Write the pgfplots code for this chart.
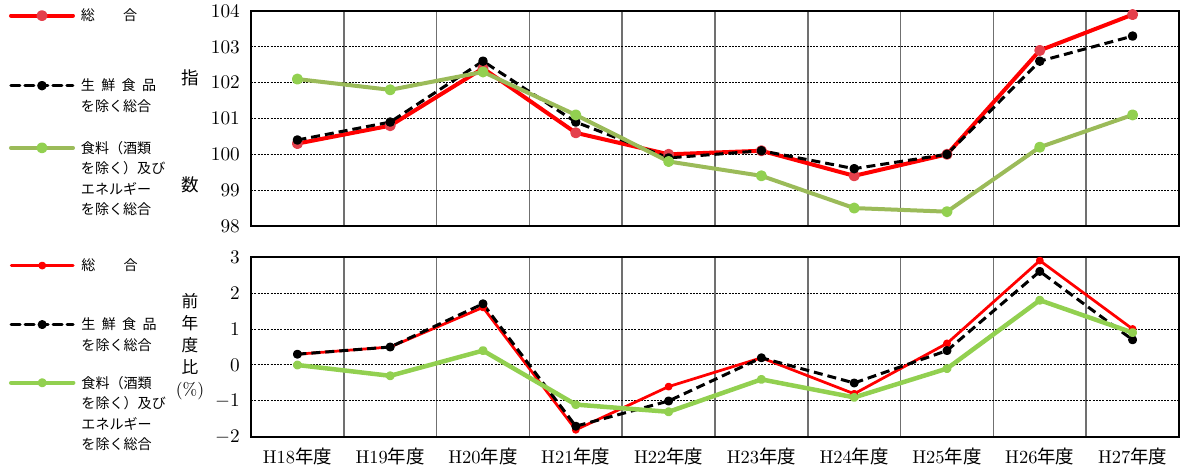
\documentclass[border=0pt]{standalone}
\usepackage{fontspec}
\usepackage{pgfplots}
\pgfplotsset{compat=1.18}
\newfontfamily\cjk{Noto Sans CJK JP}
\definecolor{sred}{HTML}{FF0000}
\definecolor{sredmk}{HTML}{E4404C}
\definecolor{olive}{HTML}{9BBB59}
\definecolor{lgreen}{HTML}{92D050}
\definecolor{vgrid}{HTML}{707070}

% legend text: fixed height box, baseline on the first line
\newcommand{\lgt}[2]{\parbox[t][#1][t]{24mm}{\cjk\fontsize{8}{11.7}\selectfont #2}}

\pgfplotsset{
  panel/.style={
    scale only axis, width=185.6mm,
    xmin=-0.5, xmax=9.5, xtick={0,...,9},
    minor xtick={0.5,1.5,...,8.5},
    xminorgrids=true,
    minor x grid style={vgrid, line width=0.3mm},
    ymajorgrids=true,
    major y grid style={black, line width=0.2mm, dash pattern=on 0.4mm off 0.25mm},
    axis line style={line width=0.5mm},
    major tick length=0pt, minor tick length=0pt,
    tick label style={font=\fontsize{10.5}{12}\selectfont},
    yticklabel style={xshift=-1mm},
    clip=false,
    every axis plot/.append style={line join=round},
    legend cell align=left,
    legend image code/.code={
      \draw[mark repeat=2, mark phase=2, line cap=round, ##1]
        plot coordinates {(0mm,1.05mm) (6.2mm,1.05mm) (12.4mm,1.05mm)};
    },
  },
  lgstyle/.style={
    legend style={draw=none, fill=none, inner sep=0pt, outer sep=0pt,
      row sep=0pt, column sep=1.2mm,
      cells={anchor=base west},
      nodes={inner sep=0pt, text depth=}},
  },
}

\pgfplotstableread{
x  tot   core  core2
0  100.3 100.4 102.1
1  100.8 100.9 101.8
2  102.4 102.6 102.3
3  100.6 100.9 101.1
4  100.0 99.9  99.8
5  100.1 100.1 99.4
6  99.4  99.6  98.5
7  100.0 100.0 98.4
8  102.9 102.6 100.2
9  103.9 103.3 101.1
}\idx

\pgfplotstableread{
x  tot  core core2
0  0.3  0.3  0.0
1  0.5  0.5  -0.3
2  1.6  1.7  0.4
3  -1.8 -1.7 -1.1
4  -0.6 -1.0 -1.3
5  0.2  0.2  -0.4
6  -0.8 -0.5 -0.9
7  0.6  0.4  -0.1
8  2.9  2.6  1.8
9  1.0  0.7  0.9
}\yoy

\begin{document}
\begin{tikzpicture}
\useasboundingbox (0,0) rectangle (236.2mm,-94.4mm);

\begin{axis}[panel, lgstyle, name=top,
  at={(50.2mm,-2.2mm)}, anchor=north west, height=43mm,
  ymin=98, ymax=104, ytick={98,...,104},
  xticklabels={},
  extra y ticks={100}, extra y tick labels={},
  extra y tick style={grid=major, major grid style={black, line width=0.45mm, solid}},
  legend style={at={(-0.2608,1.009)}, anchor=north west},
]
\addplot[sred, line width=0.8mm, mark=*, mark size=0.7mm,
  mark options={fill=sredmk, draw=sredmk}] table[x=x, y=tot] {\idx};
\addplot[black, line width=0.6mm, dash pattern=on 1.8mm off 1mm, mark=*, mark size=0.65mm,
  mark options={solid}] table[x=x, y=core] {\idx};
\addplot[olive, line width=0.8mm, mark=*, mark size=0.7mm,
  mark options={fill=lgreen, draw=lgreen}] table[x=x, y=core2] {\idx};
\legend{\lgt{14mm}{総\hspace{2em}合},
  \lgt{12.4mm}{生\hspace{0.45em}鮮\hspace{0.45em}食\hspace{0.45em}品\\を除く総合},
  \lgt{16mm}{食料（酒類\\を除く）及び\\エネルギー\\を除く総合}}
\end{axis}

\begin{axis}[panel, lgstyle, name=bot,
  at={(50.2mm,-51.4mm)}, anchor=north west, height=36mm,
  ymin=-2, ymax=3, ytick={-2,...,3},
  xticklabels={H18{\cjk 年度},H19{\cjk 年度},H20{\cjk 年度},H21{\cjk 年度},H22{\cjk 年度},
    H23{\cjk 年度},H24{\cjk 年度},H25{\cjk 年度},H26{\cjk 年度},H27{\cjk 年度}},
  xticklabel style={yshift=-1mm},
  extra y ticks={0}, extra y tick labels={},
  extra y tick style={grid=major, major grid style={black, line width=0.45mm, solid}},
  legend style={at={(-0.2608,0.989)}, anchor=north west},
]
\addplot[sred, line width=0.55mm, mark=*, mark size=0.5mm,
  mark options={fill=sred, draw=sred}] table[x=x, y=tot] {\yoy};
\addplot[black, line width=0.6mm, dash pattern=on 1.8mm off 1mm, mark=*, mark size=0.6mm,
  mark options={solid}] table[x=x, y=core] {\yoy};
\addplot[lgreen, line width=0.9mm, mark=*, mark size=0.45mm,
  mark options={fill=lgreen, draw=lgreen}] table[x=x, y=core2] {\yoy};
\legend{\lgt{11.8mm}{総\hspace{2em}合},
  \lgt{11.6mm}{生\hspace{0.45em}鮮\hspace{0.45em}食\hspace{0.45em}品\\を除く総合},
  \lgt{16mm}{食料（酒類\\を除く）及び\\エネルギー\\を除く総合}}
\end{axis}

\node[font=\cjk\fontsize{10}{12}\selectfont] at (38mm,-15.6mm) {指};
\node[font=\cjk\fontsize{10}{12}\selectfont] at (38mm,-37mm) {数};
\node[font=\cjk\fontsize{9.5}{12.5}\selectfont, align=center] at (38mm,-69.4mm)
  {前\\年\\度\\比\\{\normalfont\fontsize{10}{12}\selectfont(\%)}};
\end{tikzpicture}
\end{document}
